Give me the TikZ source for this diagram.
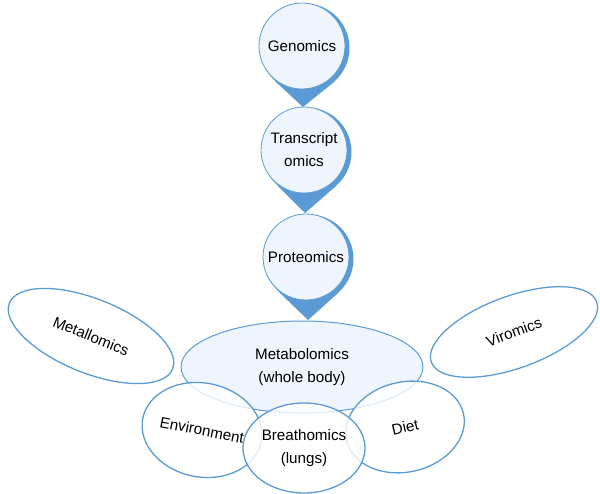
\documentclass[tikz,border=0pt]{standalone}
\usepackage{fontspec}
\setmainfont{Liberation Sans}
\usetikzlibrary{shapes.geometric}
\definecolor{omicblue}{RGB}{91,155,213}
\definecolor{omicfill}{RGB}{239,245,252}
\tikzset{
  pin/.style={circle,draw=omicblue,line width=0.8pt,fill=omicfill,minimum size=86pt,inner sep=0pt,align=center},
  pinshadow/.style={circle,fill=omicblue,minimum size=89pt,inner sep=0pt},
  blob/.style={ellipse,draw=omicblue,line width=1.3pt,inner sep=0pt,align=center},
  overlap/.style={blob,fill=white,fill opacity=0.8,text opacity=1}
}
\begin{document}
\begin{tikzpicture}[x=1pt,y=1pt,font=\fontsize{15.2}{23}\selectfont]
      \useasboundingbox (0,0) rectangle (600,-494);

      \node[blob,fill=omicfill,line width=1pt,minimum width=242pt,minimum height=92pt] (M) at (302,-367){Metabolomics\\(whole body)};
      \node[blob,rotate=-22,minimum width=176pt,minimum height=74pt] (Met) at (91,-336){Metallomics};
      \node[blob,rotate=20,minimum width=176pt,minimum height=72pt] (V) at (514,-332){Viromics};
      \node[overlap,rotate=-11,minimum width=120pt,minimum height=94pt] (E) at (202,-430){Environment};
      \node[overlap,rotate=13,minimum width=120pt,minimum height=90pt] (D) at (405,-427){Diet};
      \node[overlap,minimum width=122pt,minimum height=90pt] (B) at (304,-448){Breathomics\\(lungs)};

      % pins
      \node[pinshadow] (Gs) at (305,-48){};
      \node[pinshadow] (Ts) at (307,-152){};
      \node[pinshadow] (Ps) at (309,-259){};
      \coordinate (g) at (303,-107);
      \coordinate (t) at (305,-213);
      \coordinate (p) at (308,-320);
      \fill[omicblue] (Gs.229) -- (g) -- (Gs.311) -- cycle;
      \fill[omicblue] (Ts.229) -- (t) -- (Ts.311) -- cycle;
      \fill[omicblue] (Ps.229) -- (p) -- (Ps.311) -- cycle;
      \node[pin] (G) at (302,-46){Genomics};
      \node[pin] (T) at (304,-150){Transcript\\omics};
      \node[pin] (P) at (306,-257){Proteomics};
    \end{tikzpicture}
\end{document}
